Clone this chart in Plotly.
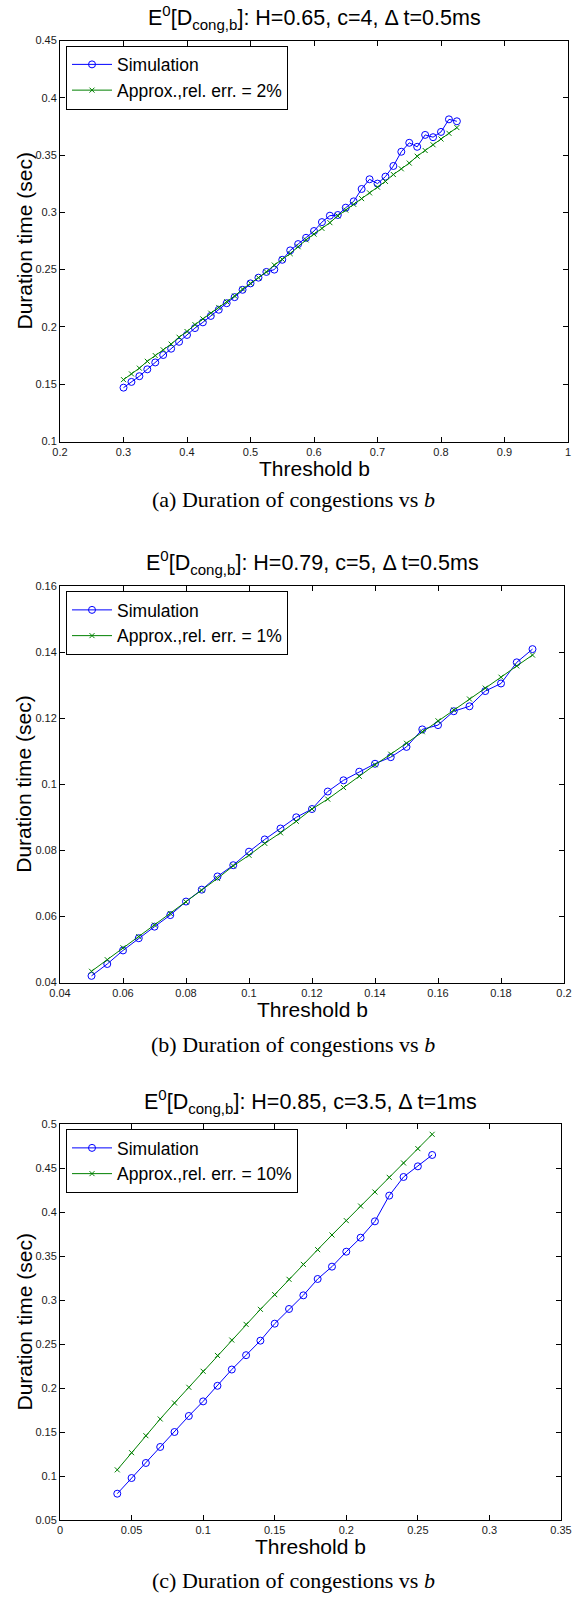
import plotly.graph_objects as go

# ---------------- data ----------------
# Panel (a): H=0.65, c=4
xa = [0.3, 0.3125, 0.325, 0.3375, 0.35, 0.3625, 0.375, 0.3875, 0.4, 0.4125, 0.425,
      0.4375, 0.45, 0.4625, 0.475, 0.4875, 0.5, 0.5125, 0.525, 0.5375, 0.55, 0.5625,
      0.575, 0.5875, 0.6, 0.6125, 0.625, 0.6375, 0.65, 0.6625, 0.675, 0.6875, 0.7,
      0.7125, 0.725, 0.7375, 0.75, 0.7625, 0.775, 0.7875, 0.8, 0.8125, 0.825]
sim_a = [0.147, 0.152, 0.157, 0.163, 0.169, 0.1755, 0.181, 0.187, 0.193, 0.199, 0.204,
         0.2096, 0.215, 0.2207, 0.226, 0.2324, 0.238, 0.243, 0.248, 0.250, 0.2586, 0.2668,
         0.2723, 0.2778, 0.2837, 0.2915, 0.2971, 0.2977, 0.3041, 0.3096, 0.3204, 0.3289,
         0.3251, 0.3312, 0.3405, 0.3529, 0.3607, 0.3572, 0.3676, 0.3656, 0.3702, 0.3812,
         0.3795]
apx_a = [0.154, 0.159, 0.164, 0.170, 0.175, 0.180, 0.185, 0.191, 0.196, 0.202, 0.207,
         0.212, 0.217, 0.222, 0.227, 0.233, 0.238, 0.243, 0.248, 0.254, 0.259, 0.264,
         0.270, 0.276, 0.281, 0.286, 0.291, 0.297, 0.302, 0.307, 0.312, 0.317, 0.322,
         0.327, 0.333, 0.338, 0.343, 0.349, 0.354, 0.359, 0.364, 0.369, 0.374]

# Panel (b): H=0.79, c=5
xb = [0.05, 0.055, 0.06, 0.065, 0.07, 0.075, 0.08, 0.085, 0.09, 0.095, 0.1, 0.105,
      0.11, 0.115, 0.12, 0.125, 0.13, 0.135, 0.14, 0.145, 0.15, 0.155, 0.16, 0.165,
      0.17, 0.175, 0.18, 0.185, 0.19]
sim_b = [0.042, 0.0456, 0.0497, 0.0534, 0.0569, 0.0604, 0.0645, 0.0681, 0.0721, 0.0755,
         0.0796, 0.0833, 0.0866, 0.0900, 0.0925, 0.0978, 0.1012, 0.1038, 0.1062, 0.1082,
         0.1113, 0.1166, 0.1179, 0.1221, 0.1236, 0.1282, 0.1305, 0.1369, 0.1409]
apx_b = [0.0434, 0.0469, 0.0505, 0.0539, 0.0574, 0.0609, 0.0644, 0.0679, 0.0715, 0.0753,
         0.0785, 0.0821, 0.0853, 0.0888, 0.0925, 0.0955, 0.0990, 0.1024, 0.1059, 0.1091,
         0.1124, 0.1159, 0.1192, 0.1225, 0.1258, 0.1291, 0.1324, 0.1358, 0.1391]

# Panel (c): H=0.85, c=3.5
xc = [0.04, 0.05, 0.06, 0.07, 0.08, 0.09, 0.1, 0.11, 0.12, 0.13, 0.14, 0.15, 0.16,
      0.17, 0.18, 0.19, 0.2, 0.21, 0.22, 0.23, 0.24, 0.25, 0.26]
sim_c = [0.0799, 0.0977, 0.1148, 0.133, 0.150, 0.1682, 0.1848, 0.2025, 0.221, 0.2373,
         0.2538, 0.2731, 0.2898, 0.3053, 0.3239, 0.3379, 0.3549, 0.3708, 0.3894, 0.4186,
         0.4398, 0.4519, 0.4648]
apx_c = [0.107, 0.1265, 0.1458, 0.1648, 0.183, 0.2008, 0.219, 0.237, 0.2545, 0.2723,
         0.2894, 0.3061, 0.3235, 0.3405, 0.3572, 0.3739, 0.3902, 0.4068, 0.4227, 0.4394,
         0.4557, 0.472, 0.4883]

# tick labels
xt_a = [0.2, 0.3, 0.4, 0.5, 0.6, 0.7, 0.8, 0.9, 1.0]
xt_a_lbl = ["0.2", "0.3", "0.4", "0.5", "0.6", "0.7", "0.8", "0.9", "1"]
yt_a = [0.1, 0.15, 0.2, 0.25, 0.3, 0.35, 0.4, 0.45]
yt_a_lbl = ["0.1", "0.15", "0.2", "0.25", "0.3", "0.35", "0.4", "0.45"]
xt_b = [0.04, 0.06, 0.08, 0.1, 0.12, 0.14, 0.16, 0.18, 0.2]
xt_b_lbl = ["0.04", "0.06", "0.08", "0.1", "0.12", "0.14", "0.16", "0.18", "0.2"]
yt_b = [0.04, 0.06, 0.08, 0.1, 0.12, 0.14, 0.16]
yt_b_lbl = ["0.04", "0.06", "0.08", "0.1", "0.12", "0.14", "0.16"]
xt_c = [0, 0.05, 0.1, 0.15, 0.2, 0.25, 0.3, 0.35]
xt_c_lbl = ["0", "0.05", "0.1", "0.15", "0.2", "0.25", "0.3", "0.35"]
yt_c = [0.05, 0.1, 0.15, 0.2, 0.25, 0.3, 0.35, 0.4, 0.45, 0.5]
yt_c_lbl = ["0.05", "0.1", "0.15", "0.2", "0.25", "0.3", "0.35", "0.4", "0.45", "0.5"]

titles = ["E<sup>0</sup>[D<sub>cong,b</sub>]: H=0.65, c=4, \u0394 t=0.5ms",
          "E<sup>0</sup>[D<sub>cong,b</sub>]: H=0.79, c=5, \u0394 t=0.5ms",
          "E<sup>0</sup>[D<sub>cong,b</sub>]: H=0.85, c=3.5, \u0394 t=1ms"]
captions = ["(a) Duration of congestions vs <i>b</i>",
            "(b) Duration of congestions vs <i>b</i>",
            "(c) Duration of congestions vs <i>b</i>"]
errs = ["2%", "1%", "10%"]

# ---------------- layout geometry (pixels) ----------------
W, H = 580, 1600
panels = [
    dict(x0=60, x1=568, y0=40.5, y1=441.5, xr=[0.2, 1.0], yr=[0.1, 0.45],
         xt=xt_a, xl=xt_a_lbl, yt=yt_a, yl=yt_a_lbl, x=xa, s=sim_a, a=apx_a),
    dict(x0=60, x1=564, y0=586, y1=982.5, xr=[0.04, 0.2], yr=[0.04, 0.16],
         xt=xt_b, xl=xt_b_lbl, yt=yt_b, yl=yt_b_lbl, x=xb, s=sim_b, a=apx_b),
    dict(x0=60, x1=561, y0=1124, y1=1520, xr=[0, 0.35], yr=[0.05, 0.5],
         xt=xt_c, xl=xt_c_lbl, yt=yt_c, yl=yt_c_lbl, x=xc, s=sim_c, a=apx_c),
]
cap_y = [499, 1044, 1580]


def px(x):
    return x / W


def py(y):
    return 1 - y / H


SANS = "Liberation Sans, Arial, sans-serif"
SERIF = "Liberation Serif, Times New Roman, serif"
BLUE = "#0000ff"
GREEN = "#008000"

fig = go.Figure()
annotations = []
layout = dict(width=W, height=H, autosize=False,
              margin=dict(l=0, r=0, t=0, b=0, autoexpand=False),
              paper_bgcolor="white", plot_bgcolor="white",
              font=dict(family=SANS, color="black"))

for i, p in enumerate(panels):
    n = "" if i == 0 else str(i + 1)
    xa_name, ya_name = "x" + n, "y" + n
    leg = "legend" if i == 0 else "legend" + str(i + 1)
    fig.add_trace(go.Scatter(
        x=p["x"], y=p["s"], mode="lines+markers", name="Simulation",
        xaxis=xa_name, yaxis=ya_name, legend=leg,
        line=dict(color=BLUE, width=1),
        marker=dict(symbol="circle-open", size=7, color=BLUE, line=dict(width=1, color=BLUE))))
    fig.add_trace(go.Scatter(
        x=p["x"], y=p["a"], mode="lines+markers", name="Approx.,rel. err. = " + errs[i],
        xaxis=xa_name, yaxis=ya_name, legend=leg,
        line=dict(color=GREEN, width=1),
        marker=dict(symbol="x-thin-open", size=5, color=GREEN, line=dict(width=1, color=GREEN))))

    axcommon = dict(showline=True, linecolor="black", linewidth=1, mirror="ticks",
                    ticks="inside", ticklen=5, tickcolor="black", tickwidth=1,
                    showgrid=False, zeroline=False, automargin=False,
                    tickfont=dict(size=11, family=SANS, color="#1a1a1a"))
    layout["xaxis" + n] = dict(domain=[px(p["x0"]), px(p["x1"])], range=p["xr"],
                               tickvals=p["xt"], ticktext=p["xl"], anchor=ya_name, **axcommon)
    layout["yaxis" + n] = dict(domain=[py(p["y1"]), py(p["y0"])], range=p["yr"],
                               tickvals=p["yt"], ticktext=p["yl"], anchor=xa_name, **axcommon)
    layout[leg] = dict(x=px(66), y=py(p["y0"] + 5), xanchor="left", yanchor="top",
                       xref="paper", yref="paper",
                       bordercolor="black", borderwidth=1, bgcolor="white",
                       font=dict(size=17.5, family=SANS, color="black"),
                       tracegroupgap=0, itemwidth=40)

    cx = px((p["x0"] + p["x1"]) / 2)
    # title
    annotations.append(dict(text=titles[i], x=cx, y=py(p["y0"] - 23), xref="paper", yref="paper",
                            xanchor="center", yanchor="middle", showarrow=False,
                            font=dict(size=21.5, family=SANS, color="black")))
    # x-axis title
    annotations.append(dict(text="Threshold b", x=cx, y=py(p["y1"] + 26.5), xref="paper", yref="paper",
                            xanchor="center", yanchor="middle", showarrow=False,
                            font=dict(size=21, family=SANS, color="black")))
    # y-axis title
    annotations.append(dict(text="Duration time (sec)", x=px(23.5), y=py((p["y0"] + p["y1"]) / 2),
                            xref="paper", yref="paper", xanchor="center", yanchor="middle",
                            textangle=-90, showarrow=False,
                            font=dict(size=21, family=SANS, color="black")))
    # caption
    annotations.append(dict(text=captions[i], x=px(293), y=py(cap_y[i]), xref="paper", yref="paper",
                            xanchor="center", yanchor="middle", showarrow=False,
                            font=dict(size=22, family=SERIF, color="black")))

layout["annotations"] = annotations
fig.update_layout(**layout)
fig.write_html("out.html",
               config={"displayModeBar": False, "staticPlot": True},
               post_script="document.body.style.margin='0px';document.body.style.overflow='hidden';")
